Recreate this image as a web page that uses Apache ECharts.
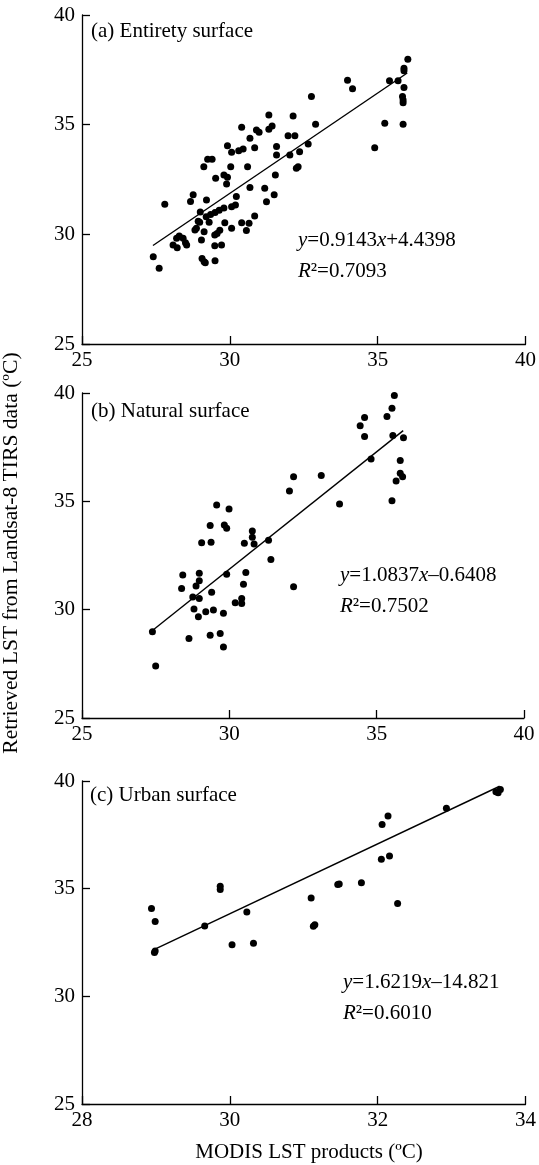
<!DOCTYPE html>
<html>
<head>
<meta charset="utf-8">
<script src="https://cdn.jsdelivr.net/npm/echarts@6/dist/echarts.min.js"></script>
<style>
  html, body { margin: 0; padding: 0; background: #fff; }
  #chart { width: 539px; height: 1165px; }
</style>
</head>
<body>
<div id="chart"></div>
<script>
// MODIS LST (x) vs retrieved Landsat-8 LST (y)
const entiretyPoints = [
  [36.02, 37.98], [35.89, 37.57], [35.89, 37.46], [35.40, 37.00], [35.69, 37.00], [33.98, 37.02],
  [34.15, 36.64], [35.89, 36.70], [35.84, 36.28], [35.86, 36.12], [35.86, 36.00], [35.86, 35.02],
  [35.24, 35.06], [34.90, 33.95], [32.76, 36.28], [32.90, 35.02], [32.14, 35.40], [31.32, 35.44],
  [31.43, 34.94], [31.32, 34.79], [30.40, 34.88], [30.90, 34.76], [30.99, 34.65], [30.68, 34.38],
  [29.92, 34.04], [30.06, 33.74], [30.30, 33.81], [30.45, 33.89], [30.84, 33.95], [31.58, 34.00],
  [31.58, 33.62], [31.97, 34.50], [32.20, 34.50], [32.03, 33.62], [32.36, 33.77], [32.65, 34.12],
  [32.25, 33.01], [32.31, 33.08], [31.54, 32.71], [30.60, 33.08], [30.03, 33.08], [29.12, 33.08],
  [29.25, 33.42], [29.40, 33.42],
  [29.52, 32.56], [29.80, 32.70], [29.92, 32.60], [29.89, 32.30], [30.68, 32.14], [31.18, 32.10],
  [31.50, 31.80], [31.24, 31.49], [30.22, 31.72], [30.19, 31.34], [30.06, 31.26], [30.84, 30.84],
  [30.40, 30.53], [30.65, 30.50], [30.56, 30.17], [30.06, 30.28], [29.83, 30.53], [29.80, 31.20],
  [29.64, 31.10], [29.50, 31.00], [29.35, 30.90], [29.20, 30.80], [29.30, 30.55], [29.00, 31.02],
  [28.93, 30.60], [28.98, 30.55], [28.87, 30.28], [28.82, 30.20], [29.13, 30.12], [29.66, 30.19],
  [29.57, 30.04], [29.49, 29.97], [29.21, 31.57], [28.76, 31.80], [28.67, 31.50], [27.80, 31.37],
  [29.04, 29.74], [29.49, 29.48], [29.72, 29.51],
  [28.29, 29.92], [28.20, 29.82], [28.42, 29.82], [28.50, 29.62], [28.08, 29.51], [28.22, 29.39],
  [28.54, 29.51], [27.41, 28.98], [27.61, 28.45], [29.06, 28.90], [29.13, 28.75], [29.17, 28.70],
  [29.50, 28.80]
];
const naturalPoints = [
  [35.60, 39.89], [35.52, 39.30], [35.35, 38.92], [34.59, 38.87], [34.44, 38.49], [34.59, 37.99],
  [35.55, 38.04], [35.91, 37.94], [34.81, 36.95], [35.80, 36.88], [35.80, 36.30], [35.88, 36.14],
  [35.66, 35.94], [35.52, 35.03], [33.12, 36.19], [32.18, 36.14], [32.04, 35.48], [33.74, 34.88],
  [29.57, 34.83], [29.99, 34.65], [29.35, 33.88], [29.83, 33.91], [29.91, 33.76], [30.78, 33.63],
  [30.78, 33.34], [31.33, 33.20], [30.84, 33.03], [30.51, 33.06], [29.06, 33.09], [29.38, 33.11],
  [31.41, 32.32], [28.42, 31.60], [28.98, 31.68], [28.98, 31.33], [28.87, 31.09], [28.38, 30.98],
  [29.91, 31.63], [30.56, 31.72], [30.48, 31.17], [29.40, 30.80], [28.76, 30.59], [28.98, 30.52],
  [30.42, 30.52], [30.42, 30.29], [30.20, 30.32], [32.18, 31.06], [28.80, 30.03], [29.20, 29.90],
  [29.46, 29.98], [28.95, 29.67], [29.80, 29.83], [27.39, 28.98], [28.63, 28.67], [29.35, 28.82],
  [29.69, 28.90], [29.80, 28.28], [27.50, 27.40]
];
const urbanPoints = [
  [33.60, 39.50], [33.63, 39.45], [33.66, 39.60], [32.93, 38.73], [32.14, 38.38], [32.06, 37.98],
  [32.05, 36.37], [32.16, 36.52], [31.78, 35.28], [31.46, 35.19], [31.48, 35.22], [31.10, 34.57],
  [32.27, 34.31], [29.87, 35.11], [29.87, 34.96], [28.94, 34.08], [28.99, 33.48], [29.66, 33.27],
  [30.23, 33.92], [30.03, 32.40], [30.32, 32.47], [31.15, 33.33], [31.13, 33.25], [28.99, 32.10],
  [28.98, 32.03]
];

const panelTitles = ['(a) Entirety surface', '(b) Natural surface', '(c) Urban surface'];
const fitSlopes = [0.9143, 1.0837, 1.6219];
const fitIntercepts = [4.4398, -0.6408, -14.821];
const fitRanges = [[27.4, 36.0], [27.4, 35.9], [28.98, 33.65]];
const eqLabels = ['0.9143{i|x}+4.4398', '1.0837{i|x}–0.6408', '1.6219{i|x}–14.821'];
const r2Labels = ['0.7093', '0.7502', '0.6010'];
const xRanges = [[25, 40, 5], [25, 40, 5], [28, 34, 2]];
const yRange = [25, 40, 5];

const FONT = '"Liberation Serif", "Times New Roman", serif';
const FS = 21;

const grids = [
  { left: 82, top: 15, width: 444, height: 329 },
  { left: 82, top: 393, width: 442, height: 325 },
  { left: 82, top: 781, width: 445, height: 323 }
];
// where the title and the fit equation sit in each panel
const titlePos = [[91, 33], [91, 413], [90, 797]];
const eqPos = [[298, 240], [340, 575], [343, 982]];

const pointSets = [entiretyPoints, naturalPoints, urbanPoints];

const axisCommon = {
  axisLine: { show: true, onZero: false, lineStyle: { color: '#000', width: 1.3 } },
  axisTick: { show: true, inside: true, length: 8, lineStyle: { color: '#000', width: 1.3 } },
  splitLine: { show: false },
  axisLabel: { color: '#000', fontFamily: FONT, fontSize: FS }
};

const xAxes = xRanges.map((r, i) => ({
  ...axisCommon,
  type: 'value', gridIndex: i, min: r[0], max: r[1], interval: r[2],
  axisLabel: { ...axisCommon.axisLabel, margin: 6 }
}));
const yAxes = grids.map((g, i) => ({
  ...axisCommon,
  type: 'value', gridIndex: i, min: yRange[0], max: yRange[1], interval: yRange[2],
  axisLabel: { ...axisCommon.axisLabel, margin: 7 }
}));

const series = [];
pointSets.forEach((pts, i) => {
  series.push({
    type: 'scatter', xAxisIndex: i, yAxisIndex: i, data: pts,
    symbol: 'circle', symbolSize: 7, itemStyle: { color: '#000', opacity: 1 }, silent: true
  });
  const [x0, x1] = fitRanges[i];
  series.push({
    type: 'line', xAxisIndex: i, yAxisIndex: i, symbol: 'none', silent: true,
    lineStyle: { color: '#000', width: 1.4 },
    data: [[x0, fitSlopes[i] * x0 + fitIntercepts[i]], [x1, fitSlopes[i] * x1 + fitIntercepts[i]]]
  });
});

const rich = {
  i: { fontStyle: 'italic', fontFamily: FONT, fontSize: FS, fill: '#000' },
  n: { fontFamily: FONT, fontSize: FS, fill: '#000' }
};

const graphics = [];
panelTitles.forEach((t, i) => {
  graphics.push({
    type: 'text', left: titlePos[i][0], top: titlePos[i][1] - 12,
    style: { text: t, font: FS + 'px ' + FONT, fill: '#000' }
  });
  graphics.push({
    type: 'text', x: eqPos[i][0], y: eqPos[i][1],
    style: {
      text: '{i|y}{n|=' + eqLabels[i].replace('{i|x}', '}{i|x}{n|') + '}',
      rich: rich, font: FS + 'px ' + FONT, verticalAlign: 'middle', fill: '#000'
    }
  });
  graphics.push({
    type: 'text', x: eqPos[i][0], y: eqPos[i][1] + 31,
    style: {
      text: '{i|R}{n|²=' + r2Labels[i] + '}',
      rich: rich, font: FS + 'px ' + FONT, verticalAlign: 'middle', fill: '#000'
    }
  });
});
graphics.push({
  type: 'text', x: 11, y: 553, rotation: Math.PI / 2,
  style: {
    text: 'Retrieved LST from Landsat-8 TIRS data (ºC)',
    font: '21.6px ' + FONT, fill: '#000', align: 'center', verticalAlign: 'middle'
  }
});
graphics.push({
  type: 'text', x: 309, y: 1152,
  style: {
    text: 'MODIS LST products (ºC)',
    font: FS + 'px ' + FONT, fill: '#000', align: 'center', verticalAlign: 'middle'
  }
});

const chart = echarts.init(document.getElementById('chart'), null, { renderer: 'canvas' });
chart.setOption({
  backgroundColor: '#fff',
  animation: false,
  grid: grids,
  xAxis: xAxes,
  yAxis: yAxes,
  series: series,
  graphic: graphics
});
</script>
</body>
</html>
